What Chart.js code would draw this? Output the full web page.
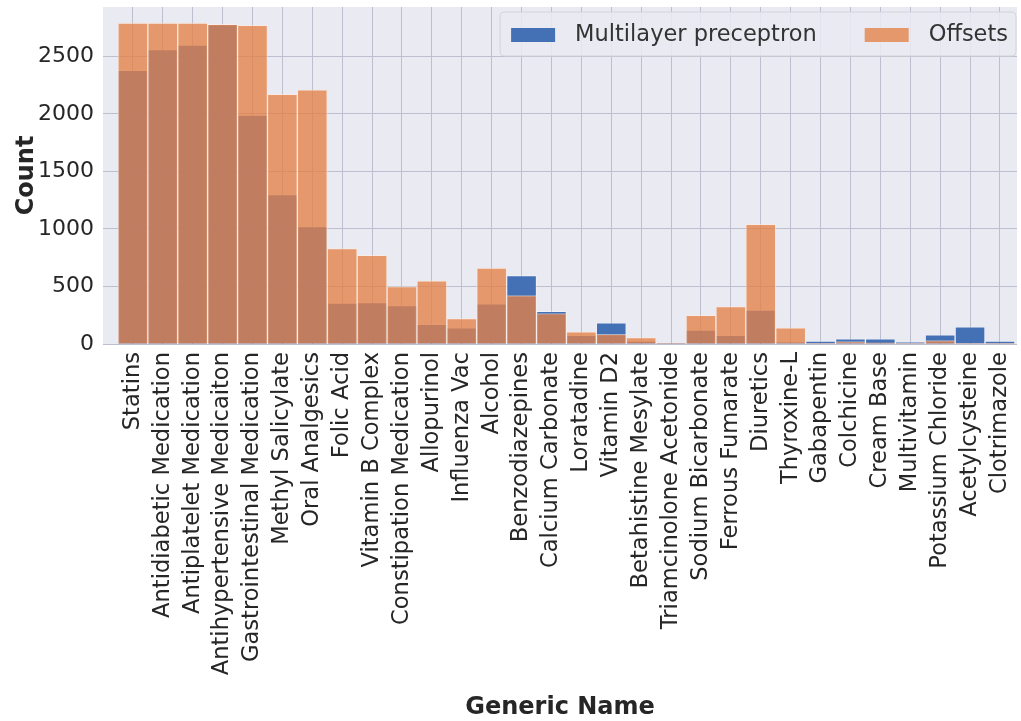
<!DOCTYPE html>
<html>
<head>
<meta charset="utf-8">
<script src="https://cdn.jsdelivr.net/npm/chart.js@4.4.1/dist/chart.umd.min.js"></script>
<style>
  html, body { margin: 0; padding: 0; background: #ffffff; overflow: hidden; }
  #wrap { width: 1021px; height: 721px; }
</style>
</head>
<body>
<div id="wrap"><canvas id="c" width="1021" height="721"></canvas></div>
<script>
// ---- data ----
const categories = [
  "Statins", "Antidiabetic Medication", "Antiplatelet Medication", "Antihypertensive Medicaiton",
  "Gastrointestinal Medication", "Methyl Salicylate", "Oral Analgesics", "Folic Acid",
  "Vitamin B Complex", "Constipation Medication", "Allopurinol", "Influenza Vac", "Alcohol",
  "Benzodiazepines", "Calcium Carbonate", "Loratadine", "Vitamin D2", "Betahistine Mesylate",
  "Triamcinolone Acetonide", "Sodium Bicarbonate", "Ferrous Fumarate", "Diuretics", "Thyroxine-L",
  "Gabapentin", "Colchicine", "Cream Base", "Multivitamin", "Potassium Chloride", "Acetylcysteine",
  "Clotrimazole"
];
const mlpCounts = [2380, 2560, 2600, 2780, 1990, 1300, 1020, 355, 360, 335, 170, 140, 350,
  595, 285, 75, 185, 25, 8, 120, 75, 295, 15, 25, 45, 45, 15, 80, 150, 25];
const offsetCounts = [2790, 2790, 2790, 2780, 2770, 2170, 2210, 830, 770, 500, 550, 220, 660,
  420, 265, 105, 85, 55, 2, 250, 325, 1040, 140, 5, 20, 10, 5, 30, 5, 5];
const yTicks = [0, 500, 1000, 1500, 2000, 2500];
const seriesNames = ["Multilayer preceptron", "Offsets"];

const FONT = "'DejaVu Sans', sans-serif";
const TEXT = "#262626";
const blueFill = "rgba(62,108,180,0.97)";
const orangeFill = "rgba(228,128,72,0.78)";

const bgPlugin = {
  id: 'bg',
  beforeDraw(chart) {
    const { ctx, chartArea: a } = chart;
    ctx.save();
    ctx.fillStyle = '#ffffff';
    ctx.fillRect(0, 0, chart.width, chart.height);
    ctx.fillStyle = '#EAEAF2';
    ctx.fillRect(a.left, a.top, a.right - a.left, a.bottom - a.top);
    ctx.restore();
  }
};

const legendPlugin = {
  id: 'innerLegend',
  afterDraw(chart) {
    const { ctx, chartArea: a } = chart;
    ctx.save();
    ctx.font = "22.5px " + FONT;
    const patchW = 44, patchH = 14, gapText = 20, gapItem = 48, padL = 11, padR = 8;
    const widths = chart.data.datasets.map(d => ctx.measureText(d.label).width);
    let total = padL + padR;
    widths.forEach((w, i) => { total += patchW + gapText + w + (i < widths.length - 1 ? gapItem : 0); });
    const right = a.right - 1, top = a.top + 5, h = 44;
    const left = right - total;
    const r = 4;
    ctx.beginPath();
    ctx.moveTo(left + r, top);
    ctx.lineTo(right - r, top);
    ctx.quadraticCurveTo(right, top, right, top + r);
    ctx.lineTo(right, top + h - r);
    ctx.quadraticCurveTo(right, top + h, right - r, top + h);
    ctx.lineTo(left + r, top + h);
    ctx.quadraticCurveTo(left, top + h, left, top + h - r);
    ctx.lineTo(left, top + r);
    ctx.quadraticCurveTo(left, top, left + r, top);
    ctx.closePath();
    ctx.fillStyle = 'rgba(234,234,242,0.85)';
    ctx.fill();
    ctx.strokeStyle = 'rgba(210,210,218,0.9)';
    ctx.lineWidth = 1;
    ctx.stroke();
    let x = left + padL;
    const cy = top + h / 2 + 1;
    chart.data.datasets.forEach((d, i) => {
      ctx.fillStyle = '#EAEAF2';
      ctx.fillRect(x, cy - patchH / 2, patchW, patchH);
      ctx.fillStyle = d.backgroundColor;
      ctx.fillRect(x, cy - patchH / 2, patchW, patchH);
      x += patchW + gapText;
      ctx.fillStyle = '#333333';
      ctx.textBaseline = 'middle';
      ctx.textAlign = 'left';
      ctx.fillText(d.label, x, cy);
      x += widths[i] + gapItem;
    });
    ctx.restore();
  }
};

new Chart(document.getElementById('c'), {
  type: 'bar',
  data: {
    datasets: [
      {
        label: seriesNames[0],
        data: mlpCounts.map((v, i) => ({ x: i, y: v })),
        backgroundColor: blueFill,
        borderColor: 'rgba(255,255,255,0.35)',
        borderWidth: 1,
        grouped: false,
        barPercentage: 1,
        categoryPercentage: 1,
        order: 2
      },
      {
        label: seriesNames[1],
        data: offsetCounts.map((v, i) => ({ x: i, y: v })),
        backgroundColor: orangeFill,
        borderColor: 'rgba(255,235,220,0.55)',
        borderWidth: 1,
        grouped: false,
        barPercentage: 1,
        categoryPercentage: 1,
        order: 1
      }
    ]
  },
  options: {
    responsive: false,
    animation: false,
    devicePixelRatio: 1,
    layout: { padding: { left: 0, right: 4, top: 7, bottom: 0 } },
    plugins: {
      legend: { display: false },
      tooltip: { enabled: false }
    },
    scales: {
      x: {
        type: 'linear',
        offset: false,
        min: -1,
        max: 29.57,
        afterFit(scale) { scale.height = 377; scale.paddingLeft = 0; scale.paddingRight = 0; },
        afterBuildTicks(scale) {
          scale.ticks = categories.map((_, i) => ({ value: i }));
        },
        grid: { color: '#bcbfcd', lineWidth: 1, drawTicks: false, offset: false },
        border: { display: false },
        ticks: {
          autoSkip: false,
          maxRotation: 90,
          minRotation: 90,
          padding: 8,
          color: TEXT,
          font: { family: FONT, size: 22.6 },
          callback: (v) => categories[v] ?? ''
        },
        title: {
          display: true,
          text: 'Generic Name',
          color: TEXT,
          font: { family: FONT, size: 24, weight: 'bold' },
          padding: { top: 0, bottom: -1 }
        }
      },
      y: {
        min: 0,
        max: 2930,
        afterFit(scale) { scale.width = 103; scale.paddingTop = 0; scale.paddingBottom = 0; },
        afterBuildTicks(scale) {
          scale.ticks = yTicks.map(v => ({ value: v }));
        },
        grid: { color: '#bcbfcd', lineWidth: 1, drawTicks: false },
        border: { display: false },
        ticks: {
          padding: 9,
          color: TEXT,
          font: { family: FONT, size: 22 },
          callback: (v) => String(v)
        },
        title: {
          display: true,
          text: 'Count',
          color: TEXT,
          font: { family: FONT, size: 24, weight: 'bold' },
          padding: { top: 12, bottom: 0 }
        }
      }
    }
  },
  plugins: [bgPlugin, legendPlugin]
});
</script>
</body>
</html>
